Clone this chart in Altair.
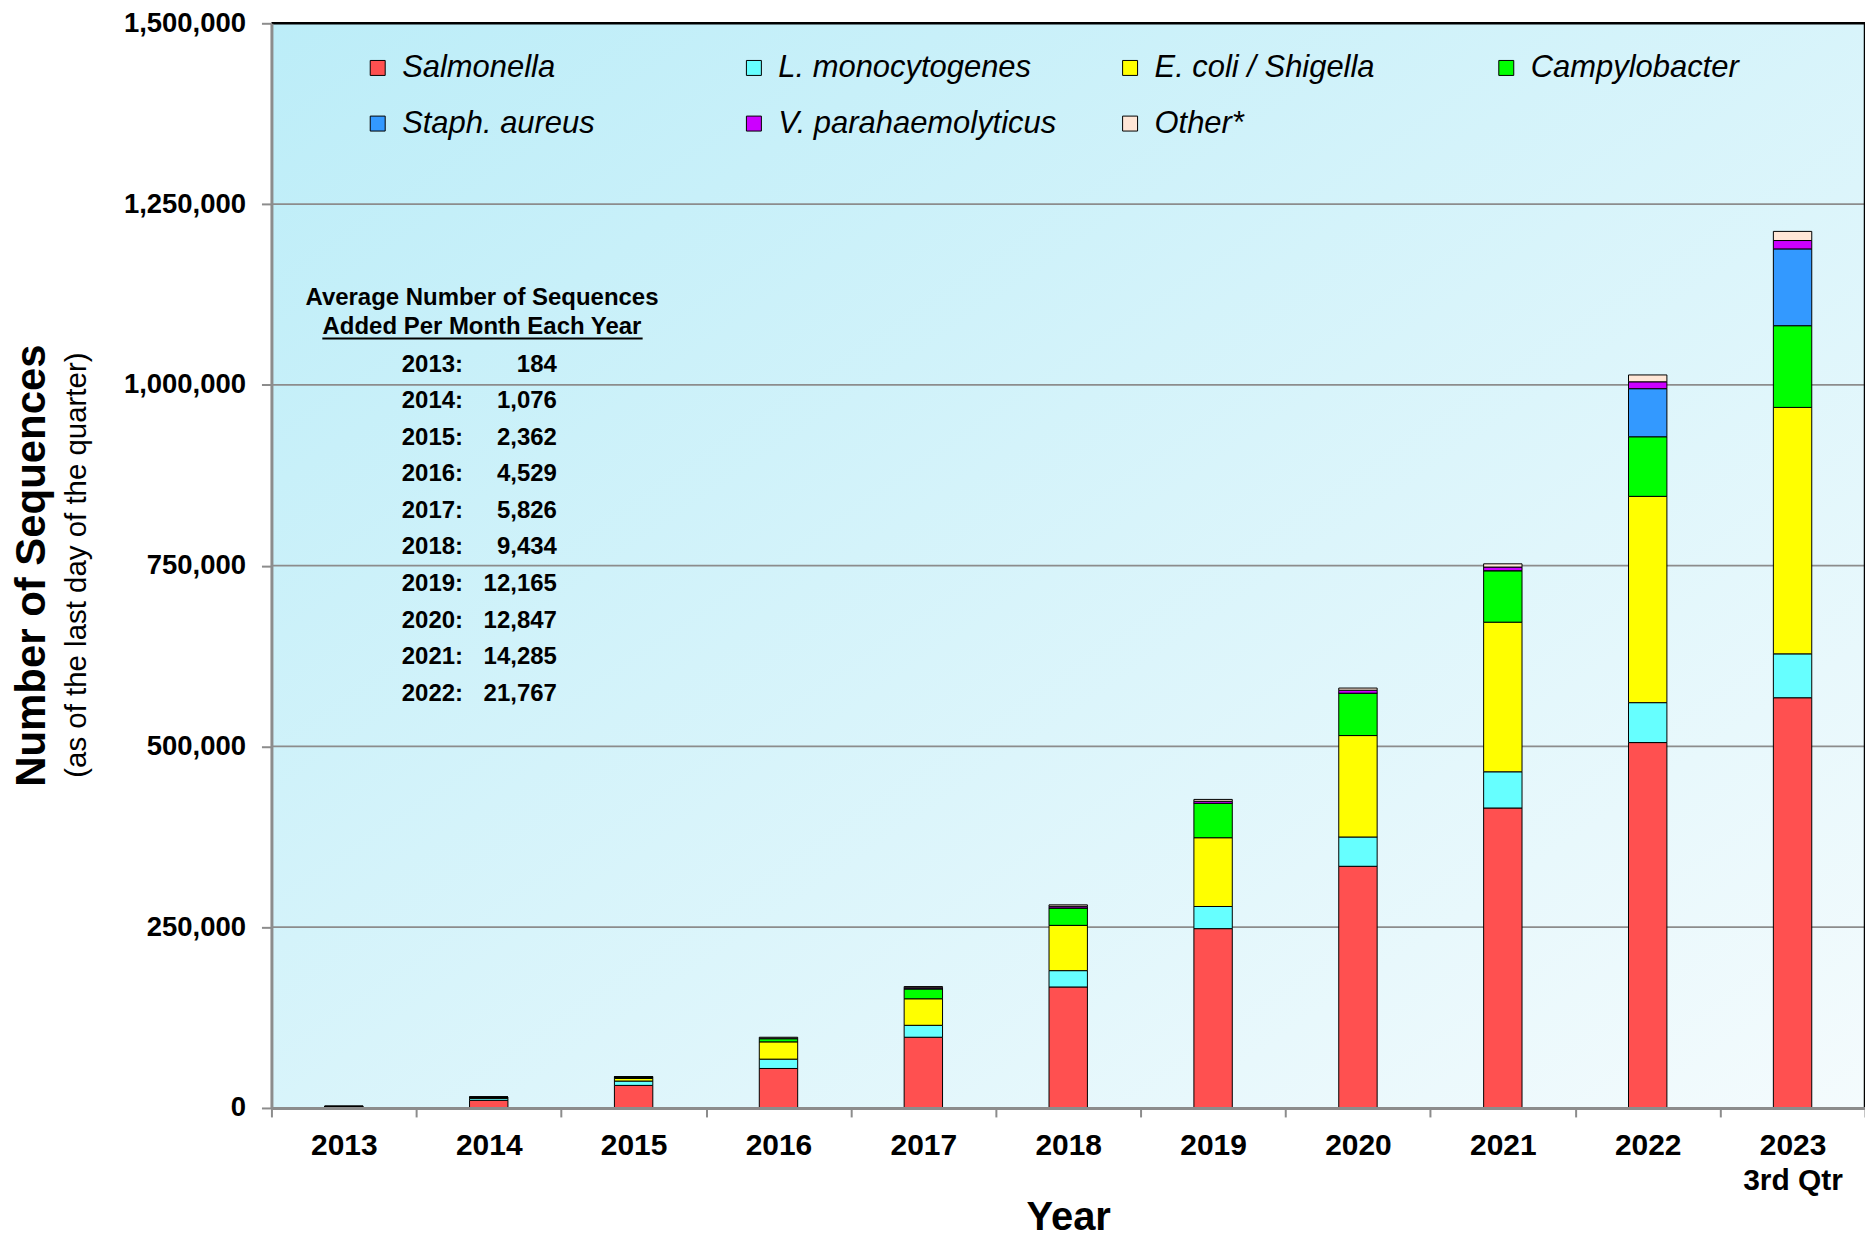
import altair as alt
import pandas as pd

FONT = "Liberation Sans, Arial, Helvetica, sans-serif"

years = ["2013", "2014", "2015", "2016", "2017", "2018", "2019", "2020", "2021", "2022", "2023"]
species = ["Salmonella", "L. monocytogenes", "E. coli / Shigella", "Campylobacter",
           "Staph. aureus", "V. parahaemolyticus", "Other*"]
colors = ["#FF5050", "#66FFFF", "#FFFF00", "#00FF00", "#3399FF", "#CC00FF", "#FFE6D6"]

salmonella = [1700, 10600, 31200, 54600, 97800, 167300, 248000, 334200, 414800, 505300, 567300]
listeria = [300, 2600, 6000, 12900, 16500, 22600, 30600, 40500, 50100, 55200, 60700]
ecoli = [150, 1100, 3600, 23900, 36700, 62600, 95100, 140300, 206900, 285300, 340800]
campylobacter = [58, 700, 2000, 4500, 13800, 24100, 47600, 58600, 71200, 82400, 113000]
staph = [0, 0, 0, 0, 0, 0, 0, 0, 0, 66500, 106200]
vibrio = [0, 50, 300, 600, 1500, 2300, 2800, 4100, 5000, 9500, 11600]
other = [0, 70, 360, 1300, 1600, 2000, 2600, 3000, 4500, 9500, 12600]
series = [salmonella, listeria, ecoli, campylobacter, staph, vibrio, other]

y_ticks = [0, 250000, 500000, 750000, 1000000, 1250000, 1500000]
grid_values = [250000, 500000, 750000, 1000000, 1250000]
top_value = [1500000]

table_header = ["Average Number of Sequences", "Added Per Month Each Year"]
table_years = ["2013:", "2014:", "2015:", "2016:", "2017:", "2018:", "2019:", "2020:", "2021:", "2022:"]
table_values = ["184", "1,076", "2,362", "4,529", "5,826", "9,434", "12,165", "12,847", "14,285", "21,767"]

rows = []
for i, sp in enumerate(species):
    for j, yr in enumerate(years):
        rows.append({"year": yr, "species": sp, "order": i, "count": series[i][j]})
df = pd.DataFrame(rows)

W, H = 1597, 1087
yscale = alt.Scale(domain=[0, 1500000], nice=False, zero=True)

background = alt.Chart(pd.DataFrame({"a": [0]})).mark_rect(
    color=alt.LinearGradient(
        gradient="linear", x1=0, y1=0, x2=1, y2=1,
        stops=[alt.GradientStop(offset=0, color="#BCEDF8"),
               alt.GradientStop(offset=1, color="#F4FBFD")])
).encode(x=alt.value(0), x2=alt.value("width"), y=alt.value(0), y2=alt.value("height"))

grid = alt.Chart(pd.DataFrame({"v": grid_values})).mark_rule(
    color="#8C8C8C", strokeWidth=1.8
).encode(y=alt.Y("v:Q", scale=yscale, axis=None))

top_border = alt.Chart(pd.DataFrame({"v": top_value})).mark_rule(
    color="black", strokeWidth=2.5
).encode(y=alt.Y("v:Q", scale=yscale, axis=None))

bars = alt.Chart(df).mark_bar(
    stroke="black", strokeWidth=1, width=alt.RelativeBandSize(0.265)
).encode(
    x=alt.X("year:N", sort=years, scale=alt.Scale(paddingInner=0, paddingOuter=0),
            axis=alt.Axis(title="Year", labelAngle=0, tickBand="extent",
                          domainColor="#8C8C8C", domainWidth=3, tickColor="#8C8C8C",
                          tickWidth=2, tickSize=9, labelPadding=14, labelFont=FONT,
                          labelFontSize=30, labelFontWeight="bold", labelColor="black",
                          labelBaseline="top", labelLineHeight=35,
                          labelExpr="datum.value == '2023' ? ['2023', '3rd Qtr'] : datum.label",
                          titleFont=FONT, titleFontSize=40, titleFontWeight="bold",
                          titleColor="black", titleY=122, titleBaseline="alphabetic",
                          zindex=1)),
    y=alt.Y("count:Q", stack="zero", scale=yscale,
            axis=alt.Axis(values=y_ticks, format=",.0f", grid=False,
                          domainColor="#8C8C8C", domainWidth=3, tickColor="#8C8C8C",
                          tickWidth=2, tickSize=10, labelPadding=16, labelFont=FONT,
                          labelFontSize=27.5, labelFontWeight="bold", labelColor="black",
                          title="Number of Sequences", titleFont=FONT, titleFontSize=42,
                          titleFontWeight="bold", titleColor="black", titleAngle=270,
                          titleX=-227, titleY=543, titleBaseline="alphabetic",
                          titleAlign="center", zindex=1)),
    color=alt.Color("species:N", sort=species,
                    scale=alt.Scale(domain=species, range=colors),
                    legend=alt.Legend(title=None, orient="none", legendX=91, legendY=29,
                                      direction="horizontal", columns=4, gridAlign="all",
                                      columnPadding=58, rowPadding=24, symbolType="square",
                                      symbolSize=225, symbolStrokeColor="black",
                                      symbolStrokeWidth=1, symbolOpacity=1,
                                      labelFont=FONT, labelFontSize=31,
                                      labelFontStyle="italic", labelColor="black",
                                      labelOffset=9, labelLimit=400, padding=0)),
    order=alt.Order("order:Q", sort="ascending"),
)

right_border = alt.Chart(pd.DataFrame({"a": [0]})).mark_rule(
    color="black", strokeWidth=2.5
).encode(x=alt.value("width"), y=alt.value(0), y2=alt.value("height"))

table_df = pd.DataFrame({"label": table_years, "value": table_values})
ytab = alt.Scale(domain=table_years, range=[342, 672], padding=0)

tab_years = alt.Chart(table_df).mark_text(
    align="right", baseline="middle", font=FONT, fontSize=24, fontWeight="bold", color="black"
).encode(x=alt.value(192), y=alt.Y("label:N", sort=table_years, scale=ytab, axis=None),
         text="label:N")

tab_values = alt.Chart(table_df).mark_text(
    align="right", baseline="middle", font=FONT, fontSize=24, fontWeight="bold", color="black"
).encode(x=alt.value(286), y=alt.Y("label:N", sort=table_years, scale=ytab, axis=None),
         text="value:N")

header = alt.Chart(pd.DataFrame({"a": [0]})).mark_text(
    align="center", baseline="middle", font=FONT, fontSize=24, fontWeight="bold",
    color="black", lineHeight=29
).encode(x=alt.value(211), y=alt.value(275), text=alt.value(table_header))

underline = alt.Chart(pd.DataFrame({"a": [0]})).mark_rule(
    color="black", strokeWidth=2
).encode(x=alt.value(51), x2=alt.value(372), y=alt.value(316))

subtitle = alt.Chart(pd.DataFrame({"a": [0]})).mark_text(
    angle=270, align="center", baseline="alphabetic", font=FONT, fontSize=29.5, color="black"
).encode(x=alt.value(-186), y=alt.value(543),
         text=alt.value("(as of the last day of the quarter)"))

chart = alt.layer(
    background, grid, top_border, bars, right_border,
    tab_years, tab_values, header, underline, subtitle
).resolve_scale(y="independent").properties(
    width=W, height=H,
    padding={"left": 264, "top": 14, "right": 0, "bottom": 131},
    autosize=alt.AutoSizeParams(type="none"),
    background="white",
).configure_view(strokeWidth=0).configure(font=FONT)

chart.save("out.html", embed_options={"renderer": "svg", "actions": False})
